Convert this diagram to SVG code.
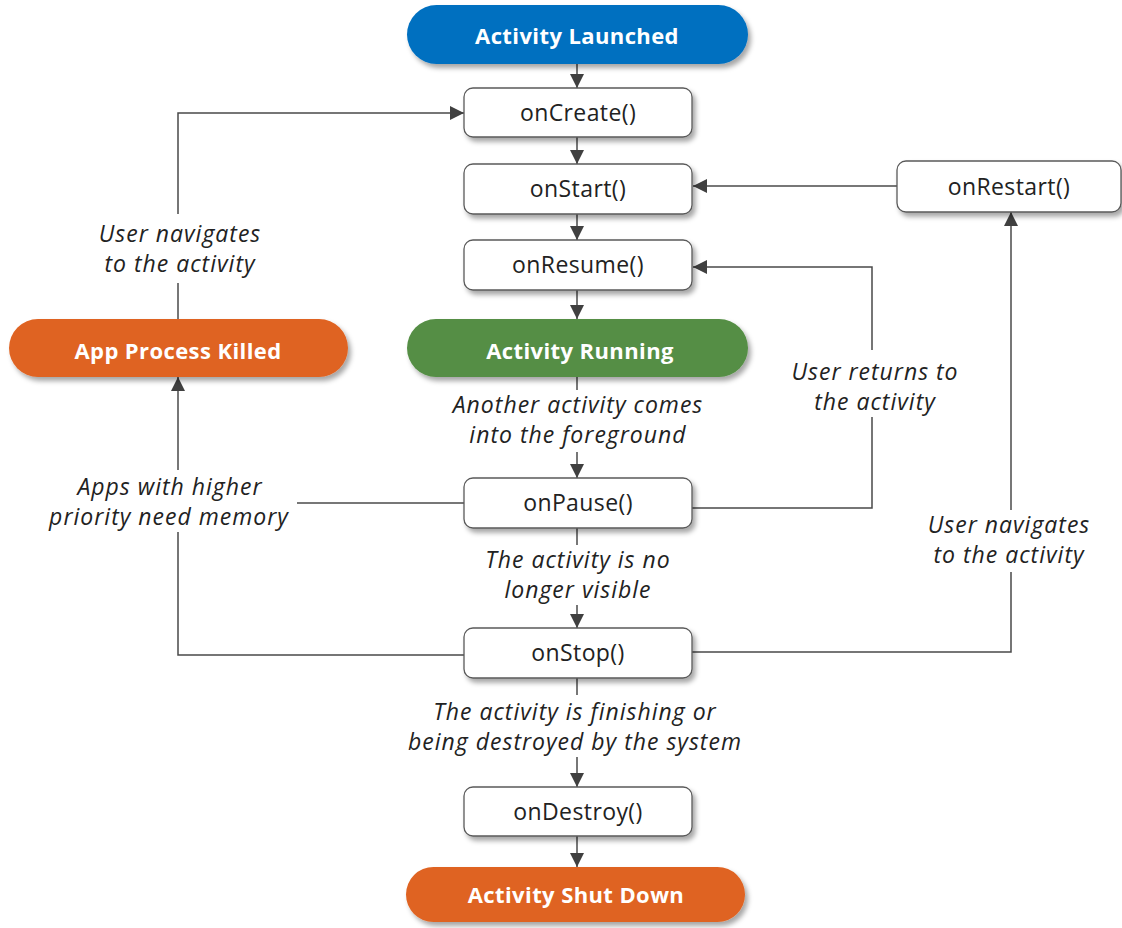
<svg xmlns="http://www.w3.org/2000/svg" width="1122" height="928" viewBox="0 0 1122 928">
<style>
.box{fill:#ffffff;stroke:#5a5a5a;stroke-width:1.3}
.pill{stroke:none}
.ntxt{font-family:"Open Sans","Noto Sans",sans-serif;font-size:23px;fill:#222;text-anchor:middle;letter-spacing:0.4px}
.ptxt{font-family:"Open Sans","Noto Sans",sans-serif;font-size:22px;font-weight:700;fill:#ffffff;text-anchor:middle;letter-spacing:0.4px}
.lbl{font-family:"Open Sans","Noto Sans",sans-serif;font-size:23px;font-style:italic;fill:#222;text-anchor:middle;letter-spacing:1px}
.ln{fill:none;stroke:#4a4a4a;stroke-width:1.5}
</style>
<defs>
<filter id="sh" x="-10%" y="-20%" width="125%" height="160%">
<feDropShadow dx="3" dy="4" stdDeviation="2.5" flood-color="#000" flood-opacity="0.35"/>
</filter>
<marker id="ar" viewBox="0 0 14 14" refX="14" refY="7" markerWidth="14" markerHeight="14" markerUnits="userSpaceOnUse" orient="auto">
<path d="M0,0 L14,7 L0,14 Z" fill="#404040"/>
</marker>
</defs>

<g id="connectors">
<path class="ln" marker-end="url(#ar)" d="M577,64 V88"/>
<path class="ln" marker-end="url(#ar)" d="M577,137 V164"/>
<path class="ln" marker-end="url(#ar)" d="M577,214 V240"/>
<path class="ln" marker-end="url(#ar)" d="M577,290 V319"/>
<path class="ln" d="M577,377 V390"/>
<path class="ln" marker-end="url(#ar)" d="M577,452 V478"/>
<path class="ln" d="M577,527 V545"/>
<path class="ln" marker-end="url(#ar)" d="M577,605 V628"/>
<path class="ln" d="M577,678 V695"/>
<path class="ln" marker-end="url(#ar)" d="M577,757 V787"/>
<path class="ln" marker-end="url(#ar)" d="M577,836 V867"/>
<path class="ln" d="M178,319 V283"/>
<path class="ln" marker-end="url(#ar)" d="M178,214 V113 H464"/>
<path class="ln" d="M464,503 H297"/>
<path class="ln" d="M464,655 H178 V532"/>
<path class="ln" marker-end="url(#ar)" d="M178,470 V377"/>
<path class="ln" d="M692,508 H872 V417"/>
<path class="ln" marker-end="url(#ar)" d="M872,350 V267 H693"/>
<path class="ln" d="M692,652 H1011 V572"/>
<path class="ln" marker-end="url(#ar)" d="M1011,510 V212"/>
<path class="ln" marker-end="url(#ar)" d="M897,186 H693"/>
</g>

<g id="launched">
<rect class="pill" x="407" y="5" width="341" height="59" rx="29.5" fill="#0070C0" filter="url(#sh)"/>
<text class="ptxt" x="577" y="44">Activity Launched</text>
</g>
<g id="onCreate">
<rect class="box" x="464" y="88" width="228" height="49" rx="9" filter="url(#sh)"/>
<text class="ntxt" x="578" y="121">onCreate()</text>
</g>
<g id="onStart">
<rect class="box" x="464" y="164" width="228" height="50" rx="9" filter="url(#sh)"/>
<text class="ntxt" x="578" y="197">onStart()</text>
</g>
<g id="onResume">
<rect class="box" x="464" y="240" width="228" height="50" rx="9" filter="url(#sh)"/>
<text class="ntxt" x="578" y="273">onResume()</text>
</g>
<g id="running">
<rect class="pill" x="407" y="319" width="341" height="58" rx="29" fill="#548E44" filter="url(#sh)"/>
<text class="ptxt" x="580" y="359">Activity Running</text>
</g>
<g id="killed">
<rect class="pill" x="9" y="319" width="339" height="58" rx="29" fill="#DF6321" filter="url(#sh)"/>
<text class="ptxt" x="178" y="359">App Process Killed</text>
</g>
<g id="onPause">
<rect class="box" x="464" y="478" width="228" height="50" rx="9" filter="url(#sh)"/>
<text class="ntxt" x="578" y="511">onPause()</text>
</g>
<g id="onStop">
<rect class="box" x="464" y="628" width="228" height="50" rx="9" filter="url(#sh)"/>
<text class="ntxt" x="578" y="661">onStop()</text>
</g>
<g id="onDestroy">
<rect class="box" x="464" y="787" width="228" height="49" rx="9" filter="url(#sh)"/>
<text class="ntxt" x="578" y="820">onDestroy()</text>
</g>
<g id="shutdown">
<rect class="pill" x="406" y="867" width="339" height="55" rx="27.5" fill="#DF6321" filter="url(#sh)"/>
<text class="ptxt" x="576" y="903">Activity Shut Down</text>
</g>
<g id="onRestart">
<rect class="box" x="897" y="161" width="224" height="51" rx="9" filter="url(#sh)"/>
<text class="ntxt" x="1009" y="195">onRestart()</text>
</g>

<g id="labels">
<text class="lbl" x="180" y="242">User navigates</text>
<text class="lbl" x="180" y="272">to the activity</text>
<text class="lbl" x="578" y="413">Another activity comes</text>
<text class="lbl" x="578" y="443">into the foreground</text>
<text class="lbl" x="875" y="380">User returns to</text>
<text class="lbl" x="875" y="410">the activity</text>
<text class="lbl" x="170" y="495">Apps with higher</text>
<text class="lbl" x="169" y="525">priority need memory</text>
<text class="lbl" x="578" y="568">The activity is no</text>
<text class="lbl" x="578" y="598">longer visible</text>
<text class="lbl" x="1009" y="533">User navigates</text>
<text class="lbl" x="1009" y="563">to the activity</text>
<text class="lbl" x="575" y="720">The activity is finishing or</text>
<text class="lbl" x="575" y="750">being destroyed by the system</text>
</g>
</svg>
